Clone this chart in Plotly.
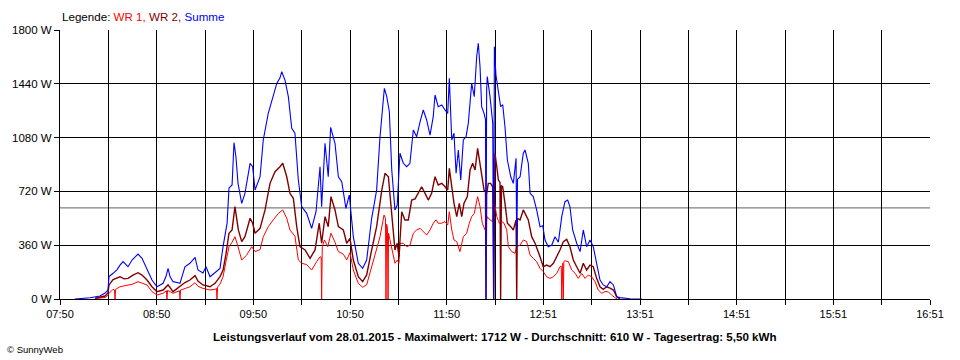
import numpy as np
import plotly.graph_objects as go

# ---- data (time in minutes since midnight, power in W) ----
t_sum = [479.3, 482.4, 488.7, 494.9, 498.0, 499.8, 500.5, 503.0, 505.4, 507.3, 509.2, 512.3, 514.8, 516.6, 518.5,
         521.0, 524.1, 527.2, 530.3, 532.2, 534.1, 535.9, 537.2, 538.4, 540.3, 542.8, 544.6, 547.7, 550.8, 554.0,
         555.8, 558.9, 560.8, 563.3, 566.4, 569.5, 571.4, 573.9, 575.1, 577.0, 578.2, 579.4, 580.7, 583.0, 585.0,
         588.2, 589.8, 591.3, 594.4, 596.4, 599.5, 602.6, 604.8, 606.8, 607.9, 609.9, 612.0, 614.1, 616.1, 618.2,
         620.3, 623.4, 626.5, 629.2, 631.7, 632.7, 634.8, 636.8, 638.3, 641.0, 643.1, 645.2, 647.8, 649.9, 652.4,
         655.5, 658.2, 660.7, 663.8, 666.9, 669.0, 671.7, 673.2, 674.8, 676.3, 678.3, 679.7, 681.4, 683.5, 685.6,
         687.6, 689.7, 691.8, 693.9, 695.9, 698.0, 700.1, 702.1, 703.2, 705.2, 707.4, 709.4, 711.1, 712.1, 713.6,
         715.0, 716.3, 717.7, 719.2, 720.8, 722.5, 723.9, 726.0, 727.6, 729.1, 730.1, 731.2, 732.2, 733.7, 734.6,
         734.9, 735.3, 735.7, 737.4, 739.1, 739.7, 740.1, 741.1, 742.6, 744.0, 745.3, 746.7, 748.2, 750.3, 751.9,
         753.6, 754.0, 754.5, 756.1, 758.1, 759.2, 761.2, 762.3, 764.3, 766.4, 768.5, 770.2, 771.6, 773.6, 775.8,
         777.8, 779.9, 782.0, 784.0, 785.7, 787.1, 788.8, 791.3, 793.4, 795.4, 797.5, 799.6, 801.6, 803.7, 805.8,
         807.8, 810.0, 812.0, 814.1, 816.2, 818.2, 824.4, 831.7, 831.9]
p_sum = [0, 3, 8, 20, 40, 60, 150, 172, 195, 227, 250, 216, 261, 280, 301,
         272, 194, 127, 82, 95, 105, 150, 205, 150, 116, 110, 105, 216, 239, 279,
         194, 174, 216, 149, 174, 205, 350, 508, 743, 763, 1046, 952, 774, 640, 707,
         908, 885, 729, 818, 1064, 1242, 1354, 1443, 1480, 1521, 1465, 1354, 1142, 1109, 796,
         618, 573, 473, 584, 885, 618, 1042, 818, 1149, 1042, 818, 785, 607, 696, 417,
         239, 205, 261, 540, 729, 1086, 1410, 1354, 1253, 863, 596, 629, 975, 908, 885,
         908, 1131, 1086, 1186, 1265, 1198, 1097, 1220, 1365, 1287, 1298, 1265, 1242, 1477, 1064,
         1109, 841, 997, 796, 1064, 1086, 1175, 1443, 1354, 1621, 1711, 1554, 1287, 1242, 1200,
         0, 1400, 1488, 1354, 1175, 0, 1688, 1499, 1398, 1287, 1300, 1153, 930, 818, 774,
         941, 350, 800, 818, 975, 997, 908, 707, 685, 596, 484, 490, 395, 350, 361,
         417, 380, 551, 651, 662, 618, 462, 373, 317, 462, 350, 395, 350, 239, 127,
         94, 82, 116, 94, 15, 9, 2, 1, 0]

t_wr2 = [491.8, 498.0, 499.8, 500.5, 503.0, 505.4, 507.3, 509.8, 512.3, 515.4,
         518.5, 521.0, 524.1, 527.2, 530.3, 534.1, 537.2, 540.3, 544.6, 547.7,
         550.8, 554.0, 555.8, 558.9, 563.3, 566.4, 569.5, 571.4, 573.2, 575.1,
         577.0, 578.8, 580.9, 583.0, 585.0, 588.2, 589.8, 591.3, 594.4, 597.5,
         600.6, 603.7, 606.8, 608.5, 611.0, 613.0, 615.1, 617.2, 619.2, 622.4,
         625.5, 628.6, 631.2, 632.7, 634.8, 636.8, 638.5, 641.0, 643.1, 646.2,
         648.3, 650.3, 652.4, 655.5, 658.2, 660.7, 663.8, 666.9, 670.1, 672.1,
         674.2, 675.2, 676.3, 678.3, 679.7, 680.8, 682.5, 684.5, 686.6, 688.7,
         690.8, 692.8, 694.9, 697.0, 699.0, 701.1, 703.2, 705.2, 707.4, 709.4,
         711.1, 712.1, 713.6, 715.0, 716.7, 718.3, 719.8, 721.2, 723.3, 725.0,
         726.6, 728.1, 729.7, 730.7, 732.2, 733.7, 734.6, 734.9, 735.3, 736.3,
         737.8, 739.1, 739.7, 740.1, 740.5, 741.6, 742.6, 743.6, 744.0, 744.5,
         745.3, 746.7, 748.2, 750.3, 751.9, 753.6, 754.0, 754.4, 756.1, 758.1,
         760.2, 761.2, 763.3, 765.4, 768.5, 770.5, 772.6, 774.7, 776.8, 778.9,
         780.9, 783.0, 785.1, 787.1, 789.2, 791.3, 793.4, 795.4, 797.5, 799.6,
         801.6, 803.7, 805.8, 807.8, 810.0, 812.0, 814.1, 816.2, 818.2]
p_wr2 = [5, 20, 40, 94, 130, 140, 149, 135, 138, 160,
         176, 160, 127, 82, 49, 60, 94, 49, 82, 110,
         127, 156, 120, 94, 82, 105, 150, 194, 300, 440,
         462, 618, 462, 384, 417, 540, 507, 440, 473, 596,
         774, 852, 885, 908, 818, 707, 674, 484, 350, 328,
         272, 328, 507, 373, 551, 484, 685, 596, 484, 462,
         373, 406, 261, 149, 116, 161, 328, 484, 729, 841,
         818, 707, 596, 328, 373, 283, 584, 529, 529, 662,
         670, 707, 751, 707, 662, 707, 818, 763, 774, 751,
         729, 874, 751, 640, 551, 640, 551, 640, 685, 863,
         908, 863, 1008, 930, 818, 729, 720, 0, 700, 774,
         774, 751, 0, 900, 975, 885, 796, 780, 0, 760,
         751, 640, 507, 484, 462, 529, 0, 540, 529, 596,
         551, 529, 417, 373, 283, 216, 227, 216, 239, 283,
         328, 384, 399, 350, 261, 216, 172, 239, 194, 227,
         216, 138, 82, 65, 82, 72, 60, 15, 0]

t_wr1 = [491.8, 498.0, 499.8, 500.5, 503.0, 503.9, 504.2, 504.6, 507.3, 512.3,
         515.4, 518.5, 521.0, 524.1, 527.2, 530.3, 534.1, 536.2, 536.5, 536.9,
         540.3, 544.3, 544.6, 545.0, 547.7, 550.8, 554.0, 555.8, 558.9, 563.3,
         566.4, 567.3, 567.6, 568.0, 569.5, 571.4, 573.2, 575.1, 577.0, 578.8,
         580.7, 583.0, 586.1, 589.2, 591.3, 594.4, 596.4, 599.5, 602.6, 605.8,
         608.5, 611.0, 613.0, 616.1, 618.2, 620.3, 623.4, 626.5, 629.6, 631.7,
         632.4, 632.7, 633.1, 634.4, 636.5, 638.5, 641.0, 643.1, 646.2, 648.3,
         650.3, 652.4, 655.5, 658.2, 660.7, 663.8, 666.9, 669.0, 671.5, 672.4,
         672.7, 673.1, 673.6, 674.0, 674.3, 674.8, 676.3, 678.3, 679.7, 680.8,
         681.4, 683.5, 685.6, 687.6, 689.7, 691.8, 693.9, 695.9, 698.0, 700.1,
         702.1, 703.8, 705.2, 707.4, 709.4, 711.1, 712.1, 713.6, 715.0, 716.7,
         718.7, 720.8, 722.9, 724.5, 726.0, 727.6, 729.7, 731.2, 732.6, 734.3,
         735.7, 737.4, 739.1, 740.1, 741.6, 743.2, 744.7, 746.1, 747.8, 748.8,
         750.9, 752.9, 754.0, 756.1, 758.1, 760.2, 762.3, 764.3, 766.4, 768.5,
         770.5, 772.6, 774.7, 776.8, 778.9, 780.9, 781.7, 782.0, 782.3, 782.7,
         783.0, 783.3, 784.0, 786.1, 788.2, 790.3, 792.3, 794.4, 796.5, 798.5,
         800.6, 802.7, 804.7, 806.9, 808.9, 811.0, 813.1, 814.7, 816.4]
p_wr1 = [3, 10, 25, 38, 65, 60, 0, 65, 82, 94,
         100, 116, 105, 94, 49, 27, 38, 55, 0, 58,
         38, 55, 0, 60, 70, 82, 109, 85, 71, 60,
         65, 70, 0, 80, 100, 149, 250, 350, 380, 417,
         350, 261, 294, 350, 317, 330, 417, 484, 529, 573,
         596, 540, 462, 420, 261, 239, 230, 194, 250, 283,
         280, 0, 350, 395, 350, 440, 380, 317, 300, 261,
         310, 194, 105, 78, 95, 216, 328, 417, 562, 540,
         0, 500, 480, 0, 440, 417, 328, 239, 260, 240,
         373, 373, 350, 360, 440, 462, 473, 450, 428, 462,
         507, 530, 507, 507, 518, 495, 584, 462, 395, 384,
         317, 417, 440, 507, 551, 573, 685, 618, 507, 462,
         551, 529, 518, 651, 551, 507, 518, 507, 462, 350,
         317, 306, 350, 361, 395, 384, 294, 272, 250, 205,
         183, 149, 138, 149, 172, 216, 220, 0, 230, 240,
         0, 250, 256, 250, 194, 172, 138, 172, 138, 160,
         149, 116, 60, 38, 50, 48, 25, 15, 0]

average_w = 610
x_start, x_end = 470, 1011          # 07:50 .. 16:51
x_labels = ["07:50", "08:50", "09:50", "10:50", "11:50", "12:51", "13:51", "14:51", "15:51", "16:51"]
y_ticks = [0, 360, 720, 1080, 1440, 1800]
y_labels = ["0 W", "360 W", "720 W", "1080 W", "1440 W", "1800 W"]

title_text = ("Leistungsverlauf vom 28.01.2015 - Maximalwert: 1712 W - Durchschnitt: 610 W - "
              "Tagesertrag: 5,50 kWh")

# ---- figure ----
FONT = "Liberation Sans, Arial, sans-serif"
fig = go.Figure()
fig.add_trace(go.Scatter(x=t_wr1, y=p_wr1, mode="lines", line=dict(color="#FF0000", width=1), name="WR 1"))
fig.add_trace(go.Scatter(x=t_wr2, y=p_wr2, mode="lines", line=dict(color="#800000", width=1.4), name="WR 2"))
fig.add_trace(go.Scatter(x=t_sum, y=p_sum, mode="lines", line=dict(color="#0000FF", width=1.1), name="Summe"))

fig.add_shape(type="line", xref="paper", x0=0, x1=1, yref="y", y0=average_w, y1=average_w,
              line=dict(color="#808080", width=1.3), layer="below")

tick_pos = list(np.linspace(x_start, x_end, 19))
tick_txt = []
for i in range(19):
    tick_txt.append(x_labels[i // 2] if i % 2 == 0 else "")

fig.update_xaxes(range=[x_start, x_end], tickmode="array", tickvals=tick_pos, ticktext=tick_txt,
                 showgrid=True, gridcolor="#000000", gridwidth=1, zeroline=False,
                 showline=True, linecolor="#000000", linewidth=1, mirror=False,
                 ticks="outside", ticklen=5, tickcolor="#000000", tickwidth=1,
                 tickfont=dict(family=FONT, size=11, color="#000000"))
fig.update_yaxes(range=[0, 1800], tickmode="array", tickvals=y_ticks, ticktext=y_labels,
                 showgrid=True, gridcolor="#000000", gridwidth=1, zeroline=False,
                 showline=True, linecolor="#000000", linewidth=1,
                 ticks="outside", ticklen=5, tickcolor="#000000", tickwidth=1,
                 tickfont=dict(family=FONT, size=11.5, color="#000000"))

fig.add_annotation(xref="paper", yref="paper", x=0, y=1.050, xanchor="left", yanchor="middle",
                   showarrow=False, font=dict(family=FONT, size=11.6, color="#000000"),
                   text=("Legende: <span style='color:#FF0000'>WR 1,</span> "
                         "<span style='color:#800000'>WR 2,</span> "
                         "<span style='color:#0000FF'>Summe</span>"))
fig.add_annotation(xref="paper", yref="paper", x=0.5, y=-0.141, xanchor="center", yanchor="middle",
                   showarrow=False, font=dict(family=FONT, size=11.6, color="#000000"),
                   text="<b>" + title_text + "</b>")
fig.add_annotation(xref="paper", yref="paper", x=-0.0632, y=-0.186, xanchor="left", yanchor="middle",
                   showarrow=False, font=dict(family=FONT, size=9.5, color="#000000"),
                   text="© SunnyWeb")

fig.update_layout(width=960, height=360, margin=dict(l=60, r=30, t=30, b=61),
                  paper_bgcolor="#FFFFFF", plot_bgcolor="#FFFFFF", showlegend=False,
                  font=dict(family=FONT))

fig.write_html("out.html", config={"displayModeBar": False},
               post_script="document.body.style.margin='0';")
